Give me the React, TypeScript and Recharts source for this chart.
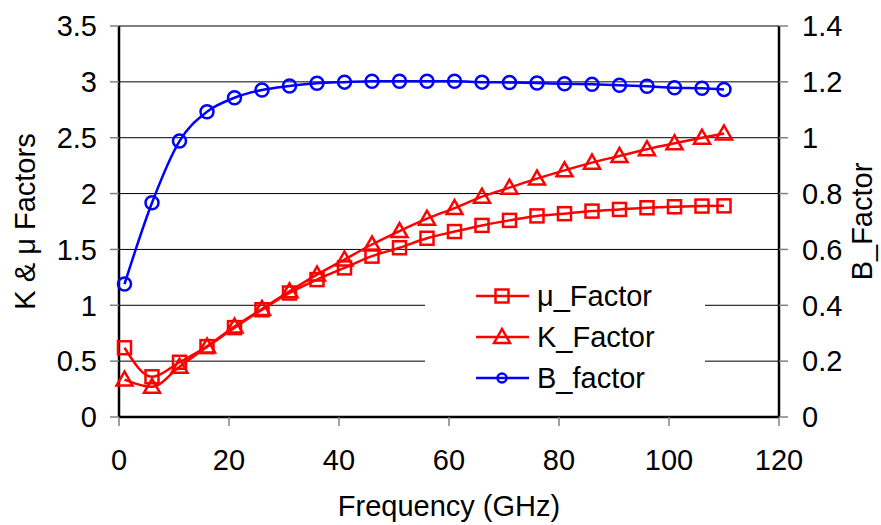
import React from 'react'
import {
  LineChart, Line, XAxis, YAxis, CartesianGrid, Legend,
} from 'recharts'

const FREQ = [1, 6, 11, 16, 21, 26, 31, 36, 41, 46, 51, 56, 61, 66, 71, 76, 81, 86, 91, 96, 101, 106, 110]
const MU = [0.62, 0.36, 0.49, 0.63, 0.8, 0.96, 1.11, 1.23, 1.335, 1.44, 1.515, 1.6, 1.66, 1.715, 1.76, 1.8, 1.82, 1.843, 1.858, 1.873, 1.882, 1.888, 1.89]
const K = [0.335, 0.27, 0.45, 0.63, 0.81, 0.967, 1.125, 1.275, 1.41, 1.544, 1.664, 1.775, 1.87, 1.972, 2.053, 2.134, 2.208, 2.277, 2.337, 2.397, 2.45, 2.5, 2.538]
const B = [0.476, 0.767, 0.988, 1.093, 1.143, 1.171, 1.185, 1.195, 1.199, 1.202, 1.202, 1.202, 1.202, 1.199, 1.198, 1.196, 1.193, 1.191, 1.188, 1.184, 1.179, 1.177, 1.173]

const X_TICKS = [0, 20, 40, 60, 80, 100, 120]
const LEFT_TICKS = [0, 0.5, 1, 1.5, 2, 2.5, 3, 3.5]
const RIGHT_TICKS = [0, 0.2, 0.4, 0.6, 0.8, 1, 1.2, 1.4]

const data = FREQ.map((f, i) => ({ freq: f, mu: MU[i], k: K[i], b: B[i] }))

const RED = '#ff0000'
const BLUE = '#0000ff'
const FONT = 'Liberation Sans, Arial, sans-serif'
const FS = 29

const square = (p: any) => (
  <rect key={p.key ?? `s${p.index}`} x={p.cx - 6.5} y={p.cy - 6.5} width={13} height={13}
    fill="none" stroke={RED} strokeWidth={2.5} />
)
const triangle = (p: any) => (
  <polygon key={p.key ?? `t${p.index}`}
    points={`${p.cx},${p.cy - 8} ${p.cx - 8},${p.cy + 6} ${p.cx + 8},${p.cy + 6}`}
    fill="none" stroke={RED} strokeWidth={2.5} />
)
const circle = (p: any) => (
  <circle key={p.key ?? `c${p.index}`} cx={p.cx} cy={p.cy} r={6.5}
    fill="none" stroke={BLUE} strokeWidth={2.5} />
)

const SERIES = [
  { name: 'μ_Factor', color: RED, marker: 'square' },
  { name: 'K_Factor', color: RED, marker: 'triangle' },
  { name: 'B_factor', color: BLUE, marker: 'circle' },
]

const LegendBox = () => (
  <svg width={280} height={122} style={{ display: 'block' }}>
    {SERIES.map((s, i) => {
      const y = 18 + i * 41
      const cx = 77
      return (
        <g key={s.name}>
          <line x1={51} x2={104} y1={y} y2={y} stroke={s.color} strokeWidth={2.5} />
          {s.marker === 'square' && (
            <rect x={cx - 6.5} y={y - 6.5} width={13} height={13} fill="none" stroke={s.color} strokeWidth={2.5} />
          )}
          {s.marker === 'triangle' && (
            <polygon points={`${cx},${y - 8} ${cx - 8},${y + 6} ${cx + 8},${y + 6}`} fill="none" stroke={s.color} strokeWidth={2.5} />
          )}
          {s.marker === 'circle' && (
            <circle cx={cx} cy={y} r={4.5} fill="none" stroke={s.color} strokeWidth={2.5} />
          )}
          <text x={112} y={y + 10} fontSize={FS} fontFamily={FONT} fill="#000">{s.name}</text>
        </g>
      )
    })}
  </svg>
)

export default function App() {
  const tick = { fontSize: FS, fill: '#000', fontFamily: FONT }
  return (
    <div style={{ position: 'absolute', left: 0, top: 0, width: 881, height: 525, background: '#fff' }}>
      <LineChart width={881} height={525} data={data} margin={{ top: 26, right: 0, bottom: 0, left: 0 }}>
        <CartesianGrid horizontal vertical={false} stroke="#000" strokeWidth={1} yAxisId="left" />
        <XAxis
          type="number"
          dataKey="freq"
          domain={[0, 120]}
          ticks={X_TICKS}
          height={108}
          tick={tick}
          tickSize={9}
          tickMargin={23}
          axisLine={{ stroke: '#000', strokeWidth: 2.5 }}
          tickLine={{ stroke: '#808080', strokeWidth: 1.5 }}
          label={{ value: 'Frequency (GHz)', position: 'insideBottom', offset: 9, fontSize: FS, fill: '#000', fontFamily: FONT }}
        />
        <YAxis
          yAxisId="left"
          domain={[0, 3.5]}
          ticks={LEFT_TICKS}
          width={119}
          tick={tick}
          tickSize={9}
          tickMargin={13}
          interval={0}
          axisLine={{ stroke: '#000', strokeWidth: 2.5 }}
          tickLine={{ stroke: '#808080', strokeWidth: 1.5 }}
          label={{ value: 'K & μ Factors', angle: -90, position: 'insideLeft', offset: 25, fontSize: FS, fill: '#000', fontFamily: FONT, style: { textAnchor: 'middle' } }}
        />
        <YAxis
          yAxisId="right"
          orientation="right"
          domain={[0, 1.4]}
          ticks={RIGHT_TICKS}
          width={102}
          tick={tick}
          tickSize={9}
          tickMargin={14}
          interval={0}
          axisLine={{ stroke: '#000', strokeWidth: 2.5 }}
          tickLine={{ stroke: '#808080', strokeWidth: 1.5 }}
          label={{ value: 'B_Factor', angle: -90, position: 'insideRight', offset: 19, fontSize: FS, fill: '#000', fontFamily: FONT, style: { textAnchor: 'middle' } }}
        />
        <Line yAxisId="left" type="monotone" dataKey="mu" name="μ_Factor" stroke={RED} strokeWidth={2.5} dot={square} isAnimationActive={false} />
        <Line yAxisId="left" type="monotone" dataKey="k" name="K_Factor" stroke={RED} strokeWidth={2.5} dot={triangle} isAnimationActive={false} />
        <Line yAxisId="right" type="monotone" dataKey="b" name="B_factor" stroke={BLUE} strokeWidth={2.5} dot={circle} isAnimationActive={false} />
        <Legend
          layout="vertical"
          align="center"
          verticalAlign="middle"
          content={<LegendBox />}
          wrapperStyle={{ left: 425, top: 278, width: 280, height: 122, background: '#fff' }}
        />
      </LineChart>
    </div>
  )
}
